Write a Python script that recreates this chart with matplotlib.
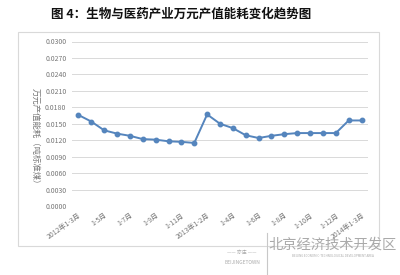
import matplotlib
matplotlib.use('Agg')
import matplotlib.pyplot as plt
from matplotlib.patches import Rectangle
from matplotlib.lines import Line2D

plt.rcParams['font.family'] = ['Noto Sans CJK SC', 'DejaVu Sans']

# 23 monthly cumulative periods, label on every other one
periods = ['2012年1-3月', '1-4月', '1-5月', '1-6月', '1-7月', '1-8月', '1-9月', '1-10月',
           '1-11月', '1-12月', '2013年1-2月', '1-3月', '1-4月', '1-5月', '1-6月', '1-7月',
           '1-8月', '1-9月', '1-10月', '1-11月', '1-12月', '2014年1-2月', '2014年1-3月']
energy = [0.0166, 0.0154, 0.0138, 0.0132, 0.0128, 0.0122, 0.0121, 0.0118, 0.0117, 0.0115,
          0.0167, 0.0150, 0.0142, 0.0129, 0.0124, 0.0128, 0.0131, 0.0133, 0.0133, 0.0133,
          0.0133, 0.0156, 0.0156]
yticks = [0.0, 0.003, 0.006, 0.009, 0.012, 0.015, 0.018, 0.021, 0.024, 0.027, 0.030]

fig = plt.figure(figsize=(4, 2.75), dpi=100)
fig.patch.set_facecolor('white')

# outer chart frame
fig.patches.append(Rectangle((18/400, 1-246/275), 361/400, 214/275, transform=fig.transFigure,
                             fill=False, edgecolor='#d9d9d9', linewidth=0.8))

ax = fig.add_axes([72/400, 1-206/275, 296/400, 164.5/275])
x = list(range(len(periods)))
ax.plot(x, energy, color='#5585bd', linewidth=1.4, marker='o', markersize=3.2,
        markerfacecolor='#5585bd', markeredgecolor='#5585bd')

ax.set_xlim(-0.5, len(periods) - 0.5)
ax.set_ylim(0, 0.030)
ax.set_yticks(yticks)
ax.set_yticklabels(['%.4f' % v for v in yticks])
ax.grid(axis='y', color='#d9d9d9', linewidth=0.7)
ax.set_axisbelow(True)
for s in ax.spines.values():
    s.set_visible(False)
ax.tick_params(axis='both', length=0, labelsize=5, labelcolor='#777777', pad=4)

ax.set_xticks(x[::2])
ax.set_xticklabels(periods[::2], rotation=35, ha='right', rotation_mode='anchor')

fig.text(35/400, 1-138/275, '万元产值能耗（吨标准煤）', rotation=270, ha='center', va='center',
         fontsize=6, color='#777777')

fig.text(181/400, 1-14/275, '图 4：生物与医药产业万元产值能耗变化趋势图', ha='center', va='center',
         fontsize=9, fontweight='bold', color='#111111')

# watermark at bottom right
fig.text(333/400, 1-245/275, '北京经济技术开发区', ha='center', va='center',
         fontsize=10.3, color='#aaaaaa')
fig.text(333/400, 1-256/275, 'BEIJING ECONOMIC-TECHNOLOGICAL DEVELOPMENT AREA', ha='center', va='center',
         fontsize=2.2, color='#aaaaaa')
fig.text(242/400, 1-262/275, 'BEIJINGETOWN', ha='center', va='center', fontsize=3.5, color='#aaaaaa')
fig.text(242/400, 1-252/275, '—— 亦庄 ——', ha='center', va='center', fontsize=3.5, color='#aaaaaa')
fig.lines.append(Line2D([267/400, 267/400], [0, 1-233/275], transform=fig.transFigure,
                        color='#c8c8c8', linewidth=0.8))

fig.savefig('out.png', dpi=100)
